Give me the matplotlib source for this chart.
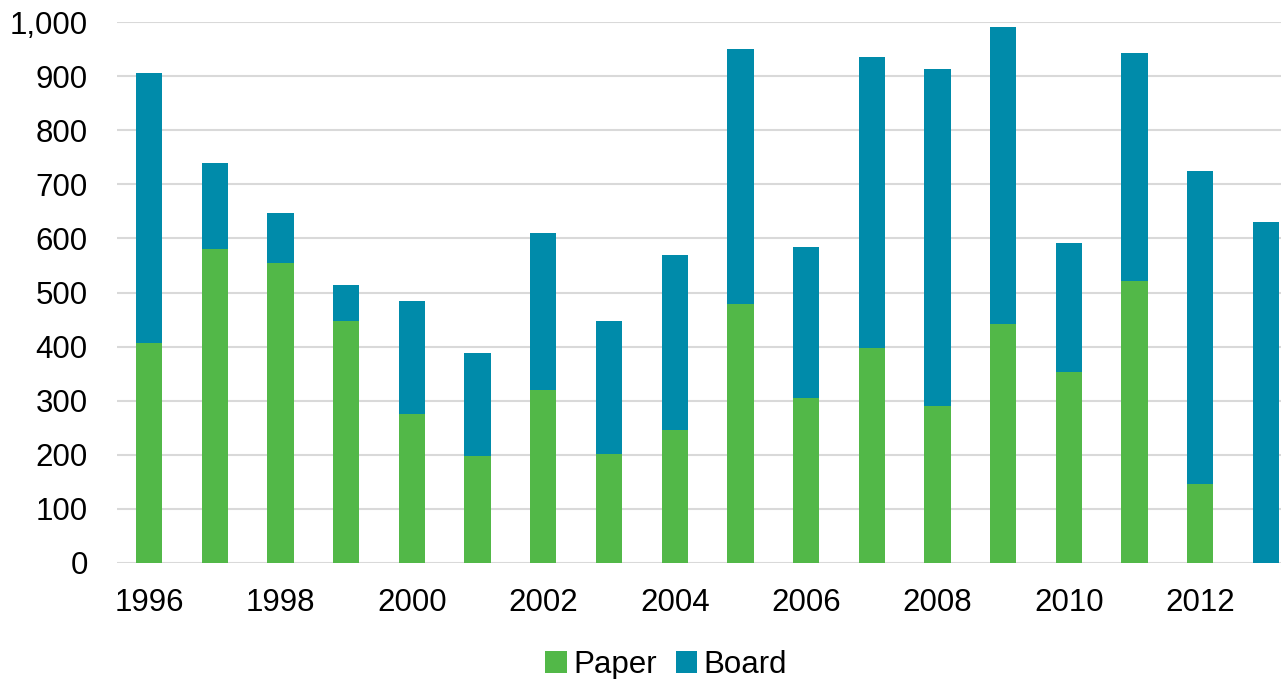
import matplotlib
matplotlib.use("Agg")
import matplotlib.pyplot as plt
from matplotlib.ticker import FuncFormatter, FixedLocator
import numpy as np

plt.rcParams['font.family'] = ['Liberation Sans', 'DejaVu Sans']

years = [1996, 1997, 1998, 1999, 2000, 2001, 2002, 2003, 2004, 2005,
         2006, 2007, 2008, 2009, 2010, 2011, 2012, 2013]
paper = [407, 581, 555, 448, 276, 198, 319, 201, 246, 478,
         305, 397, 290, 441, 353, 522, 146, 0]
total = [906, 739, 647, 514, 484, 389, 610, 448, 570, 950,
         584, 935, 913, 990, 592, 942, 725, 630]
board = [t - p for t, p in zip(total, paper)]

green = '#52B848'
blue = '#008BAA'

fig = plt.figure(figsize=(12.81, 6.79), dpi=100)
ax = fig.add_axes([117/1281, 1 - 563/679, 1 - 117/1281, (563 - 22)/679])

x = np.arange(len(years))
w = 0.4
ax.bar(x, paper, width=w, color=green, label='Paper', zorder=3)
ax.bar(x, board, width=w, bottom=paper, color=blue, label='Board', zorder=3)

ax.set_ylim(0, 1000)
ax.set_xlim(-0.49, 17.23)
ax.yaxis.set_major_locator(FixedLocator(np.arange(0, 1001, 100)))
ax.yaxis.set_major_formatter(FuncFormatter(lambda v, p: f'{int(v):,}'))
ax.set_xticks(x[::2])
ax.set_xticklabels([str(y) for y in years[::2]])

ax.grid(axis='y', color='#D9D9D9', linewidth=1.5, zorder=0)
for s in ax.spines.values():
    s.set_visible(False)
ax.tick_params(axis='both', length=0, labelsize=22.5, colors='black')
ax.tick_params(axis='y', pad=21)
ax.tick_params(axis='x', pad=18)

leg = fig.legend(loc='center', bbox_to_anchor=(0.52, 1 - 665/679), ncol=2,
                 frameon=False, fontsize=22.5, handlelength=0.7, handleheight=0.7,
                 handletextpad=0.2, columnspacing=0.6)

fig.savefig('out.png', dpi=100)
